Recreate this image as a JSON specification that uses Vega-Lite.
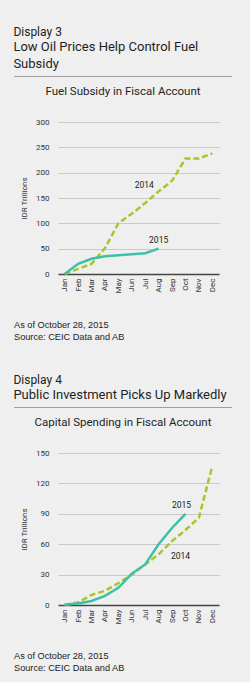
{
  "$schema": "https://vega.github.io/schema/vega-lite/v6.json",
  "background": "#efefef",
  "padding": {"left": 13, "right": 19, "top": 25, "bottom": 12},
  "config": {
    "font": "Roboto",
    "view": {"stroke": null},
    "title": {"fontWeight": "normal", "color": "#1e1e1e", "subtitleColor": "#1e1e1e", "subtitleFont": "Roboto"},
    "axis": {
      "labelFont": "Roboto",
      "labelFontSize": 8,
      "labelColor": "#333333",
      "titleFont": "Roboto",
      "titleFontSize": 8,
      "titleFontWeight": "normal",
      "titleColor": "#333333",
      "ticks": false
    }
  },
  "datasets": {
    "fuel": [
      {"series": "2014", "month": "Jan", "value": 0},
      {"series": "2014", "month": "Feb", "value": 10},
      {"series": "2014", "month": "Mar", "value": 20},
      {"series": "2014", "month": "Apr", "value": 51},
      {"series": "2014", "month": "May", "value": 100},
      {"series": "2014", "month": "Jun", "value": 119},
      {"series": "2014", "month": "Jul", "value": 140},
      {"series": "2014", "month": "Aug", "value": 163},
      {"series": "2014", "month": "Sep", "value": 184},
      {"series": "2014", "month": "Oct", "value": 228},
      {"series": "2014", "month": "Nov", "value": 228},
      {"series": "2014", "month": "Dec", "value": 238},
      {"series": "2015", "month": "Jan", "value": 0},
      {"series": "2015", "month": "Feb", "value": 20},
      {"series": "2015", "month": "Mar", "value": 30},
      {"series": "2015", "month": "Apr", "value": 35},
      {"series": "2015", "month": "May", "value": 37},
      {"series": "2015", "month": "Jun", "value": 39},
      {"series": "2015", "month": "Jul", "value": 41},
      {"series": "2015", "month": "Aug", "value": 50}
    ],
    "capital": [
      {"series": "2014", "month": "Jan", "value": 0},
      {"series": "2014", "month": "Feb", "value": 2.5},
      {"series": "2014", "month": "Mar", "value": 10},
      {"series": "2014", "month": "Apr", "value": 14},
      {"series": "2014", "month": "May", "value": 21.5},
      {"series": "2014", "month": "Jun", "value": 30},
      {"series": "2014", "month": "Jul", "value": 40},
      {"series": "2014", "month": "Aug", "value": 50},
      {"series": "2014", "month": "Sep", "value": 63},
      {"series": "2014", "month": "Oct", "value": 74},
      {"series": "2014", "month": "Nov", "value": 86},
      {"series": "2014", "month": "Dec", "value": 137},
      {"series": "2015", "month": "Jan", "value": 0.5},
      {"series": "2015", "month": "Feb", "value": 1.5},
      {"series": "2015", "month": "Mar", "value": 4},
      {"series": "2015", "month": "Apr", "value": 9},
      {"series": "2015", "month": "May", "value": 17},
      {"series": "2015", "month": "Jun", "value": 31},
      {"series": "2015", "month": "Jul", "value": 40},
      {"series": "2015", "month": "Aug", "value": 60},
      {"series": "2015", "month": "Sep", "value": 76},
      {"series": "2015", "month": "Oct", "value": 90}
    ]
  },
  "spacing": 31,
  "vconcat": [
    {
      "title": {
        "text": "Display 3",
        "subtitle": ["Low Oil Prices Help Control Fuel", "Subsidy"],
        "anchor": "start",
        "frame": "bounds",
        "fontSize": 12,
        "subtitleFontSize": 13,
        "subtitleLineHeight": 17,
        "subtitlePadding": 2,
        "offset": 4
      },
      "columns": 1,
      "align": "none",
      "spacing": 20,
      "concat": [
        {
          "width": 218,
          "height": 1,
          "data": {"values": [{"divider": "header rule"}]},
          "title": {"text": "Fuel Subsidy in Fiscal Account", "orient": "bottom", "anchor": "middle", "dx": -44, "fontSize": 11.5, "offset": 9},
          "mark": {"type": "rule", "color": "#a0a0a0", "strokeWidth": 1.2, "xOffset": -44, "x2Offset": -44},
          "encoding": {
            "x": {"datum": 0, "type": "quantitative", "scale": {"domain": [0, 1]}, "axis": null},
            "x2": {"datum": 1},
            "y": {"datum": 0.5, "type": "quantitative", "scale": {"domain": [0, 1]}, "axis": null}
          }
        },
        {
          "width": 161,
          "height": 152,
          "data": {"name": "fuel"},
          "title": {
            "text": ["As of October 28, 2015", "Source: CEIC Data and AB"],
            "orient": "bottom",
            "anchor": "start",
            "frame": "group",
            "dx": -44,
            "font": "Liberation Sans",
            "fontSize": 9.2,
            "lineHeight": 11.5,
            "offset": 28,
            "color": "#222222"
          },
          "encoding": {
            "x": {
              "field": "month",
              "type": "ordinal",
              "sort": ["Jan", "Feb", "Mar", "Apr", "May", "Jun", "Jul", "Aug", "Sep", "Oct", "Nov", "Dec"],
              "scale": {"type": "point", "padding": 0.5},
              "axis": {"title": null, "labelAngle": -90, "domainColor": "#444444", "domainWidth": 1.6, "labelPadding": 4, "grid": false}
            },
            "y": {
              "field": "value",
              "type": "quantitative",
              "scale": {"domain": [0, 300]},
              "axis": {"title": "IDR Trillions", "values": [0, 50, 100, 150, 200, 250, 300], "domain": false, "labelPadding": 9, "gridColor": "#c9c9c9", "titlePadding": 7}
            }
          },
          "layer": [
            {
              "transform": [{"filter": "datum.series === '2014'"}],
              "mark": {"type": "line", "color": "#a9c52a", "strokeWidth": 2.5, "strokeDash": [6, 3]}
            },
            {
              "transform": [{"filter": "datum.series === '2015'"}],
              "mark": {"type": "line", "color": "#3ec0a6", "strokeWidth": 2.5}
            },
            {
              "transform": [{"filter": "datum.series === '2014' && datum.month === 'Jul'"}],
              "mark": {"type": "text", "dx": -1, "dy": -18, "fontSize": 8.5, "color": "#222222"},
              "encoding": {"text": {"field": "series"}}
            },
            {
              "transform": [{"filter": "datum.series === '2015' && datum.month === 'Aug'"}],
              "mark": {"type": "text", "dx": 0, "dy": -9, "fontSize": 8.5, "color": "#222222"},
              "encoding": {"text": {"field": "series"}}
            }
          ]
        }
      ]
    },
    {
      "title": {
        "text": "Display 4",
        "subtitle": "Public Investment Picks Up Markedly",
        "anchor": "start",
        "frame": "bounds",
        "fontSize": 12,
        "subtitleFontSize": 13,
        "subtitleLineHeight": 17,
        "subtitlePadding": 2,
        "offset": 4
      },
      "columns": 1,
      "align": "none",
      "spacing": 20,
      "concat": [
        {
          "width": 218,
          "height": 1,
          "data": {"values": [{"divider": "header rule"}]},
          "title": {"text": "Capital Spending in Fiscal Account", "orient": "bottom", "anchor": "middle", "dx": -44, "fontSize": 11.5, "offset": 9},
          "mark": {"type": "rule", "color": "#a0a0a0", "strokeWidth": 1.2, "xOffset": -44, "x2Offset": -44},
          "encoding": {
            "x": {"datum": 0, "type": "quantitative", "scale": {"domain": [0, 1]}, "axis": null},
            "x2": {"datum": 1},
            "y": {"datum": 0.5, "type": "quantitative", "scale": {"domain": [0, 1]}, "axis": null}
          }
        },
        {
          "width": 161,
          "height": 152,
          "data": {"name": "capital"},
          "title": {
            "text": ["As of October 28, 2015", "Source: CEIC Data and AB"],
            "orient": "bottom",
            "anchor": "start",
            "frame": "group",
            "dx": -44,
            "font": "Liberation Sans",
            "fontSize": 9.2,
            "lineHeight": 11.5,
            "offset": 28,
            "color": "#222222"
          },
          "encoding": {
            "x": {
              "field": "month",
              "type": "ordinal",
              "sort": ["Jan", "Feb", "Mar", "Apr", "May", "Jun", "Jul", "Aug", "Sep", "Oct", "Nov", "Dec"],
              "scale": {"type": "point", "padding": 0.5},
              "axis": {"title": null, "labelAngle": -90, "domainColor": "#444444", "domainWidth": 1.6, "labelPadding": 4, "grid": false}
            },
            "y": {
              "field": "value",
              "type": "quantitative",
              "scale": {"domain": [0, 150]},
              "axis": {"title": "IDR Trillions", "values": [0, 30, 60, 90, 120, 150], "domain": false, "labelPadding": 9, "gridColor": "#c9c9c9", "titlePadding": 7}
            }
          },
          "layer": [
            {
              "transform": [{"filter": "datum.series === '2014'"}],
              "mark": {"type": "line", "color": "#a9c52a", "strokeWidth": 2.5, "strokeDash": [6, 3]}
            },
            {
              "transform": [{"filter": "datum.series === '2015'"}],
              "mark": {"type": "line", "color": "#3ec0a6", "strokeWidth": 2.5}
            },
            {
              "transform": [{"filter": "datum.series === '2014' && datum.month === 'Oct'"}],
              "mark": {"type": "text", "dx": -5, "dy": 26, "fontSize": 8.5, "color": "#222222"},
              "encoding": {"text": {"field": "series"}}
            },
            {
              "transform": [{"filter": "datum.series === '2015' && datum.month === 'Oct'"}],
              "mark": {"type": "text", "dx": -4, "dy": -9, "fontSize": 8.5, "color": "#222222"},
              "encoding": {"text": {"field": "series"}}
            }
          ]
        }
      ]
    }
  ]
}
